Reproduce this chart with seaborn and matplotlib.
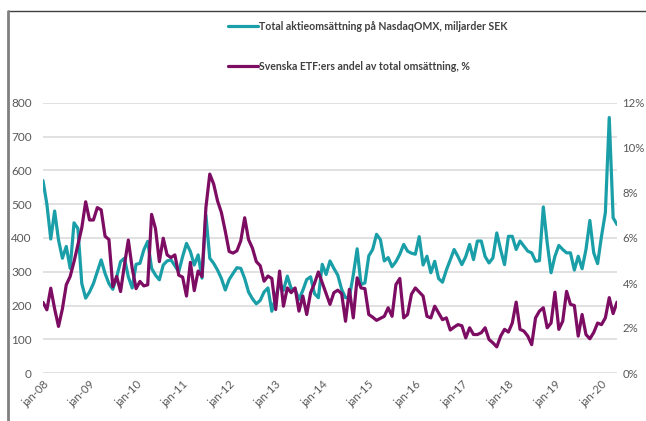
import numpy as np
import pandas as pd
import matplotlib
matplotlib.use("Agg")
import matplotlib.pyplot as plt
from matplotlib.lines import Line2D
import seaborn as sns

# ---- data (monthly, jan-2008 .. may-2020) ----
turnover_sek_bn = [
    570, 500, 397, 480, 394, 340, 375, 310, 445, 428, 265, 222,
    240, 265, 300, 335, 295, 265, 248, 285, 330, 340, 285, 252,
    322, 325, 365, 390, 310, 290, 276, 320, 332, 335, 318, 300,
    345, 384, 360, 320, 350, 281, 468, 340, 325, 305, 280, 246,
    277, 295, 312, 310, 280, 240, 220, 205, 215, 240, 252, 183,
    225, 267, 245, 287, 250, 248, 218, 245, 277, 285, 235, 223,
    322, 292, 332, 310, 290, 248, 223, 225, 290, 368, 262, 267,
    347, 366, 411, 395, 332, 342, 315, 330, 352, 381, 361, 355,
    352, 404, 320, 346, 297, 331, 280, 269, 305, 335, 366, 345,
    321, 345, 381, 336, 391, 391, 345, 326, 341, 415, 365, 321,
    405, 405, 366, 391, 376, 361, 356, 331, 333, 492, 386, 297,
    346, 378, 366, 356, 356, 305, 346, 309, 366, 452, 356, 324,
    405, 475, 757, 460, 440,
]
etf_share_pct = [
    3.14, 2.81, 3.77, 2.85, 2.07, 2.85, 3.92, 4.29, 4.95, 5.70, 6.45, 7.61,
    6.80, 6.80, 7.35, 7.25, 6.08, 5.93, 3.84, 4.29, 3.62, 4.80, 5.91, 4.65,
    3.75, 4.07, 3.87, 3.92, 7.05, 6.42, 4.95, 5.99, 5.25, 5.13, 5.25, 4.35,
    4.26, 3.42, 4.92, 3.66, 4.53, 4.29, 7.35, 8.84, 8.40, 7.65, 7.13, 6.30,
    5.40, 5.33, 5.43, 5.88, 6.90, 5.93, 5.55, 4.95, 4.77, 4.08, 4.31, 4.20,
    2.82, 4.53, 2.97, 3.78, 3.57, 3.78, 2.75, 3.42, 2.60, 3.57, 3.98, 4.49,
    4.01, 3.53, 3.05, 3.57, 3.68, 3.53, 2.30, 3.72, 2.45, 4.23, 3.78, 3.75,
    2.60, 2.48, 2.34, 2.43, 2.52, 2.90, 2.52, 3.93, 4.20, 2.45, 2.60, 3.50,
    3.78, 3.60, 3.42, 2.52, 2.45, 2.97, 2.67, 2.37, 2.45, 1.91, 2.04, 2.15,
    2.10, 1.56, 2.01, 1.71, 1.71, 1.79, 2.01, 1.49, 1.34, 1.16, 1.64, 1.94,
    1.82, 2.22, 3.15, 1.94, 1.86, 1.64, 1.26, 2.45, 2.75, 2.90, 2.01, 2.22,
    3.59, 1.94, 2.30, 3.63, 3.05, 3.00, 1.64, 2.60, 1.71, 1.52, 1.80, 2.22,
    2.15, 2.45, 3.35, 2.64, 3.15,
]
tick_labels = ["jan-08", "jan-09", "jan-10", "jan-11", "jan-12", "jan-13",
               "jan-14", "jan-15", "jan-16", "jan-17", "jan-18", "jan-19",
               "jan-20"]
left_ticks = [0, 100, 200, 300, 400, 500, 600, 700, 800]
right_ticks = [0, 2, 4, 6, 8, 10, 12]
label_teal = "Total aktieomsättning på NasdaqOMX, miljarder SEK"
label_purple = "Svenska ETF:ers andel av total omsättning, %"

df = pd.DataFrame({
    "month": np.arange(len(turnover_sek_bn)),
    "turnover": turnover_sek_bn,
    "share": etf_share_pct,
})

sns.set_theme(style="white")
plt.rcParams["font.family"] = ["Open Sans", "DejaVu Sans"]

TEAL = "#1a9fa8"
PURPLE = "#7d0c63"
TXT = "#595959"
TICKFONT = ["Lato", "DejaVu Sans"]
LEGFONT = ["Lato", "DejaVu Sans"]

fig = plt.figure(figsize=(6.46, 4.21), dpi=100)
ax = fig.add_axes([43 / 646, 48 / 421, 574 / 646, 270 / 421])
ax2 = ax.twinx()

sns.lineplot(data=df, x="month", y="turnover", ax=ax, color=TEAL,
             linewidth=2.3, label=label_teal, legend=False)
sns.lineplot(data=df, x="month", y="share", ax=ax2, color=PURPLE,
             linewidth=2.3, label=label_purple, legend=False)

n = len(turnover_sek_bn)
ax.set_xlim(0, n - 1)
ax.set_ylim(0, 800)
ax2.set_ylim(0, 12)
ax.set_yticks(left_ticks)
ax.set_yticklabels([str(t) for t in left_ticks], family=TICKFONT)
ax2.set_yticks(right_ticks)
ax2.set_yticklabels([f"{t}%" for t in right_ticks], family=TICKFONT)
ax.set_xticks([12 * i for i in range(len(tick_labels))])
ax.set_xticklabels(tick_labels, rotation=45, ha="right",
                   rotation_mode="anchor", family=TICKFONT)

ax.grid(axis="y", color="#d9d9d9", linewidth=1.1)
ax.grid(axis="x", visible=False)
ax2.grid(False)
for a in (ax, ax2):
    for s in a.spines.values():
        s.set_visible(False)
    a.set_xlabel("")
    a.set_ylabel("")
ax.tick_params(axis="y", length=0, pad=8, labelsize=8.5, labelcolor=TXT)
ax2.tick_params(axis="y", length=0, pad=4, labelsize=8.2, labelcolor=TXT)
ax.tick_params(axis="x", length=0, pad=4, labelsize=8.2, labelcolor=TXT)
ax.set_zorder(1)
ax2.set_zorder(2)
ax.patch.set_visible(False)

handles = [Line2D([], [], color=TEAL, linewidth=2.3),
           Line2D([], [], color=PURPLE, linewidth=2.3)]
fig.legend(handles, [label_teal, label_purple], loc="upper left",
           bbox_to_anchor=(228 / 646, 1 - 21 / 421), frameon=False,
           handlelength=2.8, handletextpad=0.12, labelspacing=2.75,
           borderaxespad=0, borderpad=0,
           prop={"family": LEGFONT, "size": 7.6, "weight": "bold"},
           labelcolor="#404040")

# frame lines (top and left)
fig.add_artist(Line2D([8 / 646, 1], [1 - 11 / 421, 1 - 11 / 421],
                      color="#404040", linewidth=1.0,
                      transform=fig.transFigure))
fig.add_artist(Line2D([8 / 646, 8 / 646], [0, 1 - 11 / 421],
                      color="#808080", linewidth=2.0,
                      transform=fig.transFigure))

fig.savefig("out.png", dpi=100)
